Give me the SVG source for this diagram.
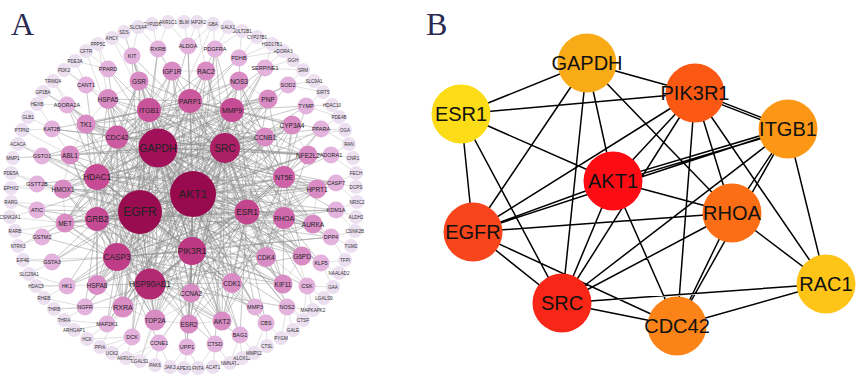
<svg xmlns="http://www.w3.org/2000/svg" width="858" height="376" viewBox="0 0 858 376">
<style>
text{font-family:"Liberation Sans",Arial,sans-serif;text-anchor:middle;dominant-baseline:central;fill:#222}
.panel{font-family:"Liberation Serif","Times New Roman",serif;font-size:32px;fill:#2a2a52;text-anchor:start;dominant-baseline:auto}
.e{fill:none;stroke:#8e8e8e;stroke-width:0.45;stroke-opacity:0.6;stroke-linejoin:round}
.eo{fill:none;stroke:#a8a8a8;stroke-width:0.45;stroke-opacity:0.8}
.eb{fill:none;stroke:#000;stroke-width:1.5}
.o{fill:#ebdff0}.t{fill:#e3b3dd}.m{fill:#d98bc4}
.to{font-size:4.6px;fill:#333}.tt{font-size:5.5px}.tm{font-size:6.5px}.tc{font-size:7px}.t2{font-size:8.3px}
.tb{font-size:20px;fill:#111}
</style>
<rect width="858" height="376" fill="#fff"/>
<text class="panel" x="11" y="35">A</text>
<text class="panel" x="426" y="35">B</text>

<g id="edges-A">
<path class="eo" d="M124 32L132 56M124 32L139 81M112 38L132 56M112 38L149 110M98 44L108 69M98 44L108 99M86 51L108 69M86 51L117 137M75 61L86 85M75 61L108 69M64 70L86 85M64 70L108 99M53 81L67 105M53 81L86 124M43 92L67 105M43 92L117 137M37 104L67 105M37 104L70 155M28 117L52 129M22 130L52 129M22 130L70 155M18 144L42 156M18 144L97 177M13 158L42 156M13 158L70 155M11 173L37 184M11 173L63 189M11 188L37 184M11 188L63 189M11 202L37 210M11 202L65 223M9 217L37 210M9 217L65 223M15 231L42 237M15 231L97 219M18 246L42 237M18 246L65 223M23 260L52 262M23 260L117 257M29 274L52 262M29 274L67 286M36 286L67 286M36 286L97 285M44 298L67 286M44 298L85 307M54 309L85 307M54 309L123 307M64 320L85 307M64 320L107 324M74 330L107 324M87 339L107 324M87 339L132 337M100 347L132 337M100 347L123 307M112 353L132 337M126 358L132 337M126 358L159 343M140 361L159 343M140 361L155 320M155 365L159 343M170 367L187 347M170 367L159 343M184 368L187 347M198 368L187 347M198 368L215 344M213 367L215 344M230 363L215 344M230 363L240 335M242 358L240 335M254 353L240 335M254 353L266 323M267 346L266 323M281 338L266 323M281 338L287 307M293 330L287 307M303 320L287 307M303 320L307 286M313 310L307 286M313 310L287 307M324 298L307 286M333 287L307 286M333 287L321 263M339 273L321 263M345 260L321 263M345 260L331 237M351 246L331 237M355 231L331 237M355 231L336 210M356 217L336 210M357 202L336 210M357 202L336 183M356 187L336 183M356 173L336 183M356 173L331 155M353 158L331 155M349 144L331 155M349 144L321 129M345 130L321 129M339 117L321 129M339 117L306 106M332 105L306 106M323 92L306 106M323 92L288 85M314 81L288 85M303 70L288 85M303 70L265 68M293 60L265 68M283 51L265 68M283 51L239 58M272 44L239 58M272 44L265 68M257 37L239 58M242 31L239 58M242 31L215 49M228 27L215 49M213 24L215 49M213 24L188 46M197 22L188 46M197 22L206 71M184 22L188 46M168 22L158 49M168 22L188 46M152 24L158 49M138 27L158 49M138 27L132 56M45 92L193 194M18 144L140 212M303 320L193 194M213 24L158 148M11 202L140 212M345 130L225 148M140 361L193 194"/>
<path class="e" d="M193 194L140 212 193 194 158 148 193 194 225 148 193 194 247 212 193 194 192 251 193 194 150 284 193 194 117 257 193 194 97 219 193 194 97 177 193 194 149 110 193 194 190 101 193 194 232 110 193 194 117 137 193 194 284 177 193 194 284 218 193 194 139 81 193 194 172 71 193 194 206 71 193 194 239 81 193 194 268 99 193 194 292 125 193 194 308 155 193 194 317 189 193 194 313 224 193 194 302 256 193 194 283 284 193 194 222 321 193 194 189 324 193 194 97 285 193 194 65 223 193 194 63 189 193 194 70 155 193 194 86 124 193 194 108 99 193 194 265 137 193 194 266 257 193 194 232 283 193 194 191 293 193 194 155 320 193 194 123 307 193 194 132 56 193 194 188 46 193 194 215 49 193 194 265 68 193 194 108 69 193 194 67 105 193 194 52 129 193 194 42 156 193 194 42 237 193 194 67 286 193 194 85 307 193 194 107 324 193 194 187 347 193 194 240 335 193 194 321 263 193 194 336 210 193 194 336 183 193 194 321 129 193 194 288 85 193 194 287 307 193 194 255 307 193 194 307 286"/>
<path class="e" d="M140 212L139 81 140 212 172 71 140 212 239 81 140 212 268 99 140 212 292 125 140 212 308 155 140 212 317 189 140 212 313 224 140 212 283 284 140 212 222 321 140 212 97 285 140 212 65 223 140 212 63 189 140 212 70 155 140 212 86 124 140 212 108 99 140 212 265 137 140 212 266 257 140 212 232 283 140 212 155 320 140 212 123 307 140 212 132 56 140 212 158 49 140 212 215 49 140 212 67 105 140 212 42 156 140 212 37 184 140 212 37 210 140 212 52 262 140 212 107 324 140 212 132 337 140 212 215 344 140 212 266 323 140 212 331 237 140 212 336 183 140 212 306 106 140 212 255 307 140 212 307 286 140 212 287 307 140 212 302 256 140 212 158 148 140 212 225 148 140 212 247 212 140 212 192 251 140 212 150 284 140 212 117 257 140 212 97 219 140 212 97 177 140 212 149 110 140 212 190 101 140 212 232 110 140 212 117 137 140 212 284 177 140 212 284 218"/>
<path class="e" d="M158 148L268 99 158 148 292 125 158 148 308 155 158 148 317 189 158 148 313 224 158 148 302 256 158 148 283 284 158 148 222 321 158 148 189 324 158 148 97 285 158 148 65 223 158 148 63 189 158 148 70 155 158 148 86 124 158 148 108 99 158 148 265 137 158 148 266 257 158 148 232 283 158 148 191 293 158 148 155 320 158 148 123 307 158 148 188 46 158 148 239 58 158 148 265 68 158 148 86 85 158 148 42 156 158 148 42 237 158 148 67 286 158 148 132 337 158 148 187 347 158 148 240 335 158 148 266 323 158 148 321 263 158 148 331 237 158 148 336 183 158 148 331 155 158 148 321 129 158 148 306 106 158 148 288 85 158 148 287 307 158 148 255 307 158 148 225 148 158 148 247 212 158 148 192 251 158 148 150 284 158 148 117 257 158 148 97 219 158 148 97 177 158 148 232 110 158 148 284 177 158 148 284 218"/>
<path class="e" d="M225 148L139 81 225 148 172 71 225 148 206 71 225 148 239 81 225 148 268 99 225 148 292 125 225 148 308 155 225 148 317 189 225 148 313 224 225 148 283 284 225 148 222 321 225 148 189 324 225 148 97 285 225 148 65 223 225 148 63 189 225 148 70 155 225 148 86 124 225 148 108 99 225 148 265 137 225 148 266 257 225 148 232 283 225 148 191 293 225 148 155 320 225 148 123 307 225 148 132 56 225 148 215 49 225 148 265 68 225 148 52 129 225 148 37 210 225 148 52 262 225 148 85 307 225 148 107 324 225 148 215 344 225 148 266 323 225 148 331 237 225 148 336 210 225 148 331 155 225 148 307 286 225 148 255 307 225 148 287 307 225 148 247 212 225 148 192 251 225 148 150 284 225 148 117 257 225 148 97 219 225 148 97 177 225 148 149 110 225 148 190 101 225 148 117 137 225 148 284 218"/>
<path class="e" d="M247 212L139 81 247 212 206 71 247 212 268 99 247 212 292 125 247 212 308 155 247 212 313 224 247 212 302 256 247 212 222 321 247 212 189 324 247 212 97 285 247 212 65 223 247 212 63 189 247 212 86 124 247 212 108 99 247 212 266 257 247 212 232 283 247 212 191 293 247 212 155 320 247 212 123 307 247 212 158 49 247 212 239 58 247 212 37 184 247 212 67 286 247 212 159 343 247 212 240 335 247 212 321 263 247 212 336 210 247 212 321 129 247 212 192 251 247 212 150 284 247 212 117 257 247 212 97 219 247 212 97 177 247 212 149 110 247 212 190 101 247 212 232 110 247 212 117 137 247 212 284 177 247 212 284 218"/>
<path class="e" d="M192 251L139 81 192 251 172 71 192 251 239 81 192 251 292 125 192 251 317 189 192 251 313 224 192 251 283 284 192 251 222 321 192 251 189 324 192 251 97 285 192 251 65 223 192 251 70 155 192 251 108 99 192 251 265 137 192 251 266 257 192 251 232 283 192 251 191 293 192 251 155 320 192 251 123 307 192 251 132 56 192 251 215 49 192 251 52 262 192 251 107 324 192 251 187 347 192 251 266 323 192 251 331 237 192 251 336 183 192 251 150 284 192 251 117 257 192 251 97 219 192 251 97 177 192 251 149 110 192 251 190 101 192 251 232 110 192 251 117 137 192 251 284 177 192 251 284 218"/>
<path class="e" d="M150 284L139 81 150 284 206 71 150 284 268 99 150 284 308 155 150 284 313 224 150 284 302 256 150 284 222 321 150 284 189 324 150 284 97 285 150 284 65 223 150 284 63 189 150 284 86 124 150 284 265 137 150 284 266 257 150 284 232 283 150 284 191 293 150 284 155 320 150 284 123 307 150 284 37 210 150 284 85 307 150 284 132 337 150 284 215 344 150 284 240 335 150 284 287 307 150 284 117 257 150 284 97 219 150 284 97 177 150 284 149 110 150 284 190 101 150 284 232 110 150 284 117 137 150 284 284 177 150 284 284 218"/>
<path class="e" d="M117 257L172 71 117 257 239 81 117 257 292 125 117 257 317 189 117 257 283 284 117 257 222 321 117 257 97 285 117 257 65 223 117 257 63 189 117 257 70 155 117 257 108 99 117 257 265 137 117 257 266 257 117 257 232 283 117 257 191 293 117 257 155 320 117 257 123 307 117 257 42 237 117 257 67 286 117 257 107 324 117 257 159 343 117 257 255 307 117 257 331 237 117 257 97 219 117 257 97 177 117 257 149 110 117 257 190 101 117 257 232 110 117 257 117 137 117 257 284 177 117 257 284 218"/>
<path class="e" d="M97 219L139 81 97 219 206 71 97 219 268 99 97 219 308 155 97 219 313 224 97 219 283 284 97 219 222 321 97 219 97 285 97 219 65 223 97 219 70 155 97 219 86 124 97 219 265 137 97 219 232 283 97 219 191 293 97 219 155 320 97 219 123 307 97 219 37 210 97 219 52 262 97 219 85 307 97 219 336 210 97 219 97 177 97 219 149 110 97 219 190 101 97 219 232 110 97 219 117 137 97 219 284 177 97 219 284 218"/>
<path class="e" d="M97 177L139 81 97 177 172 71 97 177 239 81 97 177 292 125 97 177 317 189 97 177 302 256 97 177 189 324 97 177 97 285 97 177 65 223 97 177 63 189 97 177 108 99 97 177 265 137 97 177 266 257 97 177 232 283 97 177 155 320 97 177 123 307 97 177 42 156 97 177 37 184 97 177 67 105 97 177 86 85 97 177 336 183 97 177 149 110 97 177 190 101 97 177 232 110 97 177 117 137 97 177 284 177 97 177 284 218"/>
<path class="e" d="M149 110L172 71 149 110 239 81 149 110 268 99 149 110 308 155 149 110 313 224 149 110 283 284 149 110 222 321 149 110 97 285 149 110 65 223 149 110 70 155 149 110 86 124 149 110 108 99 149 110 265 137 149 110 232 283 149 110 191 293 149 110 123 307 149 110 132 56 149 110 158 49 149 110 108 69 149 110 52 129 149 110 190 101 149 110 232 110 149 110 117 137 149 110 284 177 149 110 284 218"/>
<path class="e" d="M190 101L139 81 190 101 206 71 190 101 239 81 190 101 292 125 190 101 317 189 190 101 302 256 190 101 222 321 190 101 65 223 190 101 63 189 190 101 86 124 190 101 108 99 190 101 265 137 190 101 266 257 190 101 232 283 190 101 155 320 190 101 188 46 190 101 239 58 190 101 321 129 190 101 232 110 190 101 117 137 190 101 284 177 190 101 284 218"/>
<path class="e" d="M232 110L172 71 232 110 268 99 232 110 292 125 232 110 308 155 232 110 313 224 232 110 283 284 232 110 189 324 232 110 97 285 232 110 70 155 232 110 86 124 232 110 265 137 232 110 266 257 232 110 191 293 232 110 123 307 232 110 265 68 232 110 215 49 232 110 306 106 232 110 288 85 232 110 117 137 232 110 284 177 232 110 284 218"/>
<path class="e" d="M117 137L139 81 117 137 206 71 117 137 268 99 117 137 308 155 117 137 302 256 117 137 222 321 117 137 65 223 117 137 63 189 117 137 86 124 117 137 108 99 117 137 265 137 117 137 232 283 117 137 155 320 117 137 123 307 117 137 108 69 117 137 67 105 117 137 52 129 117 137 42 156 117 137 284 177 117 137 284 218"/>
<path class="e" d="M284 177L239 81 284 177 268 99 284 177 292 125 284 177 317 189 284 177 313 224 284 177 302 256 284 177 222 321 284 177 265 137 284 177 266 257 284 177 232 283 284 177 331 155 284 177 336 183 284 177 321 129 284 177 306 106 284 177 284 218"/>
<path class="e" d="M284 218L239 81 284 218 292 125 284 218 308 155 284 218 317 189 284 218 302 256 284 218 283 284 284 218 222 321 284 218 189 324 284 218 265 137 284 218 266 257 284 218 232 283 284 218 336 210 284 218 331 237 284 218 321 263 284 218 307 286"/>
<path class="e" d="M265 137L292 125M265 137L239 81M265 137L232 283M232 283L266 257M232 283L191 293M232 283L155 320M232 283L222 321M232 283L255 307M232 283L283 284M123 307L97 285M123 307L155 320M123 307L191 293M65 223L63 189M70 155L86 124M108 99L139 81M172 71L206 71M239 81L268 99M292 125L308 155M317 189L313 224M302 256L283 284M189 324L222 321M155 320L189 324M70 155L63 189M108 99L86 124"/>
</g>

<g id="nodes-A">
<g id="nA-SDS"><circle class="o" cx="124" cy="32" r="7"/><text class="to" x="124" y="32">SDS</text></g>
<g id="nA-AHCY"><circle class="o" cx="112" cy="38" r="7"/><text class="to" x="112" y="38">AHCY</text></g>
<g id="nA-PPP5C"><circle class="o" cx="98" cy="44" r="7"/><text class="to" x="98" y="44">PPP5C</text></g>
<g id="nA-CFTR"><circle class="o" cx="86" cy="51" r="7"/><text class="to" x="86" y="51">CFTR</text></g>
<g id="nA-PDE3A"><circle class="o" cx="75" cy="61" r="7"/><text class="to" x="75" y="61">PDE3A</text></g>
<g id="nA-PDK2"><circle class="o" cx="64" cy="70" r="7"/><text class="to" x="64" y="70">PDK2</text></g>
<g id="nA-TRIM24"><circle class="o" cx="53" cy="81" r="7"/><text class="to" x="53" y="81">TRIM24</text></g>
<g id="nA-GP1BA"><circle class="o" cx="43" cy="92" r="7"/><text class="to" x="43" y="92">GP1BA</text></g>
<g id="nA-HEXB"><circle class="o" cx="37" cy="104" r="7"/><text class="to" x="37" y="104">HEXB</text></g>
<g id="nA-GLB1"><circle class="o" cx="28" cy="117" r="7"/><text class="to" x="28" y="117">GLB1</text></g>
<g id="nA-PTPN2"><circle class="o" cx="22" cy="130" r="7"/><text class="to" x="22" y="130">PTPN2</text></g>
<g id="nA-ACACA"><circle class="o" cx="18" cy="144" r="7"/><text class="to" x="18" y="144">ACACA</text></g>
<g id="nA-MMP1"><circle class="o" cx="13" cy="158" r="7"/><text class="to" x="13" y="158">MMP1</text></g>
<g id="nA-PDE5A"><circle class="o" cx="11" cy="173" r="7"/><text class="to" x="11" y="173">PDE5A</text></g>
<g id="nA-EPHX2"><circle class="o" cx="11" cy="188" r="7"/><text class="to" x="11" y="188">EPHX2</text></g>
<g id="nA-RARG"><circle class="o" cx="11" cy="202" r="7"/><text class="to" x="11" y="202">RARG</text></g>
<g id="nA-CSNK2A1"><circle class="o" cx="10" cy="217" r="7"/><text class="to" x="10" y="217">CSNK2A1</text></g>
<g id="nA-RARB"><circle class="o" cx="15" cy="231" r="7"/><text class="to" x="15" y="231">RARB</text></g>
<g id="nA-NTRK3"><circle class="o" cx="18" cy="246" r="7"/><text class="to" x="18" y="246">NTRK3</text></g>
<g id="nA-EIF4E"><circle class="o" cx="23" cy="260" r="7"/><text class="to" x="23" y="260">EIF4E</text></g>
<g id="nA-SLC29A1"><circle class="o" cx="29" cy="274" r="7"/><text class="to" x="29" y="274">SLC29A1</text></g>
<g id="nA-HDAC5"><circle class="o" cx="36" cy="286" r="7"/><text class="to" x="36" y="286">HDAC5</text></g>
<g id="nA-RHEB"><circle class="o" cx="44" cy="298" r="7"/><text class="to" x="44" y="298">RHEB</text></g>
<g id="nA-THRB"><circle class="o" cx="54" cy="309" r="7"/><text class="to" x="54" y="309">THRB</text></g>
<g id="nA-THRA"><circle class="o" cx="64" cy="320" r="7"/><text class="to" x="64" y="320">THRA</text></g>
<g id="nA-ARHGAP1"><circle class="o" cx="74" cy="330" r="7"/><text class="to" x="74" y="330">ARHGAP1</text></g>
<g id="nA-HCK"><circle class="o" cx="87" cy="339" r="7"/><text class="to" x="87" y="339">HCK</text></g>
<g id="nA-PPIA"><circle class="o" cx="100" cy="347" r="7"/><text class="to" x="100" y="347">PPIA</text></g>
<g id="nA-UCK2"><circle class="o" cx="112" cy="353" r="7"/><text class="to" x="112" y="353">UCK2</text></g>
<g id="nA-AKR1C1-b"><circle class="o" cx="126" cy="358" r="7"/><text class="to" x="126" y="358">AKR1C1</text></g>
<g id="nA-LGALS1"><circle class="o" cx="140" cy="361" r="7"/><text class="to" x="140" y="361">LGALS1</text></g>
<g id="nA-PAK6"><circle class="o" cx="155" cy="365" r="7"/><text class="to" x="155" y="365">PAK6</text></g>
<g id="nA-JAK3"><circle class="o" cx="170" cy="367" r="7"/><text class="to" x="170" y="367">JAK3</text></g>
<g id="nA-APEX1"><circle class="o" cx="184" cy="368" r="7"/><text class="to" x="184" y="368">APEX1</text></g>
<g id="nA-FNTA"><circle class="o" cx="198" cy="368" r="7"/><text class="to" x="198" y="368">FNTA</text></g>
<g id="nA-ACAT1"><circle class="o" cx="213" cy="367" r="7"/><text class="to" x="213" y="367">ACAT1</text></g>
<g id="nA-NMNAT3"><circle class="o" cx="230" cy="363" r="7"/><text class="to" x="230" y="363">NMNAT3</text></g>
<g id="nA-ALOX12"><circle class="o" cx="242" cy="358" r="7"/><text class="to" x="242" y="358">ALOX12</text></g>
<g id="nA-MMP12"><circle class="o" cx="254" cy="353" r="7"/><text class="to" x="254" y="353">MMP12</text></g>
<g id="nA-CTSL"><circle class="o" cx="267" cy="346" r="7"/><text class="to" x="267" y="346">CTSL</text></g>
<g id="nA-PYGM"><circle class="o" cx="281" cy="338" r="7"/><text class="to" x="281" y="338">PYGM</text></g>
<g id="nA-GALE"><circle class="o" cx="293" cy="330" r="7"/><text class="to" x="293" y="330">GALE</text></g>
<g id="nA-CTSF"><circle class="o" cx="303" cy="320" r="7"/><text class="to" x="303" y="320">CTSF</text></g>
<g id="nA-MAPKAPK2"><circle class="o" cx="313" cy="310" r="7"/><text class="to" x="313" y="310">MAPKAPK2</text></g>
<g id="nA-LGALS9"><circle class="o" cx="324" cy="298" r="7"/><text class="to" x="324" y="298">LGALS9</text></g>
<g id="nA-GAA"><circle class="o" cx="333" cy="287" r="7"/><text class="to" x="333" y="287">GAA</text></g>
<g id="nA-NAALAD2"><circle class="o" cx="339" cy="273" r="7"/><text class="to" x="339" y="273">NAALAD2</text></g>
<g id="nA-TFPI"><circle class="o" cx="345" cy="260" r="7"/><text class="to" x="345" y="260">TFPI</text></g>
<g id="nA-TGM2"><circle class="o" cx="351" cy="246" r="7"/><text class="to" x="351" y="246">TGM2</text></g>
<g id="nA-CSNK2B"><circle class="o" cx="355" cy="231" r="7"/><text class="to" x="355" y="231">CSNK2B</text></g>
<g id="nA-ALDH2"><circle class="o" cx="356" cy="217" r="7"/><text class="to" x="356" y="217">ALDH2</text></g>
<g id="nA-NR3C2"><circle class="o" cx="357" cy="202" r="7"/><text class="to" x="357" y="202">NR3C2</text></g>
<g id="nA-DCPS"><circle class="o" cx="356" cy="187" r="7"/><text class="to" x="356" y="187">DCPS</text></g>
<g id="nA-FECH"><circle class="o" cx="356" cy="173" r="7"/><text class="to" x="356" y="173">FECH</text></g>
<g id="nA-CNR1"><circle class="o" cx="353" cy="158" r="7"/><text class="to" x="353" y="158">CNR1</text></g>
<g id="nA-RAN"><circle class="o" cx="349" cy="144" r="7"/><text class="to" x="349" y="144">RAN</text></g>
<g id="nA-OGA"><circle class="o" cx="345" cy="130" r="7"/><text class="to" x="345" y="130">OGA</text></g>
<g id="nA-PDE4B"><circle class="o" cx="339" cy="117" r="7"/><text class="to" x="339" y="117">PDE4B</text></g>
<g id="nA-HDAC10"><circle class="o" cx="332" cy="105" r="7"/><text class="to" x="332" y="105">HDAC10</text></g>
<g id="nA-SIRT5"><circle class="o" cx="323" cy="92" r="7"/><text class="to" x="323" y="92">SIRT5</text></g>
<g id="nA-SLC9A1"><circle class="o" cx="314" cy="81" r="7"/><text class="to" x="314" y="81">SLC9A1</text></g>
<g id="nA-SRM"><circle class="o" cx="303" cy="70" r="7"/><text class="to" x="303" y="70">SRM</text></g>
<g id="nA-GGH"><circle class="o" cx="293" cy="60" r="7"/><text class="to" x="293" y="60">GGH</text></g>
<g id="nA-ADORA3"><circle class="o" cx="283" cy="51" r="7"/><text class="to" x="283" y="51">ADORA3</text></g>
<g id="nA-HSD17B1"><circle class="o" cx="272" cy="44" r="7"/><text class="to" x="272" y="44">HSD17B1</text></g>
<g id="nA-CYP27B1"><circle class="o" cx="257" cy="37" r="7"/><text class="to" x="257" y="37">CYP27B1</text></g>
<g id="nA-SULT2B1"><circle class="o" cx="242" cy="31" r="7"/><text class="to" x="242" y="31">SULT2B1</text></g>
<g id="nA-GALK1"><circle class="o" cx="228" cy="27" r="7"/><text class="to" x="228" y="27">GALK1</text></g>
<g id="nA-GBA"><circle class="o" cx="213" cy="24" r="7"/><text class="to" x="213" y="24">GBA</text></g>
<g id="nA-MAP2K2"><circle class="o" cx="197" cy="22" r="7"/><text class="to" x="197" y="22">MAP2K2</text></g>
<g id="nA-BLM"><circle class="o" cx="184" cy="22" r="7"/><text class="to" x="184" y="22">BLM</text></g>
<g id="nA-AKR1C1-t"><circle class="o" cx="168" cy="22" r="7"/><text class="to" x="168" y="22">AKR1C1</text></g>
<g id="nA-CYP2D6"><circle class="o" cx="152" cy="24" r="7"/><text class="to" x="152" y="24">CYP2D6</text></g>
<g id="nA-SLC6A4"><circle class="o" cx="138" cy="27" r="7"/><text class="to" x="138" y="27">SLC6A4</text></g>

<g id="nA-KIT"><circle class="t" cx="132" cy="56" r="8.5"/><text class="tt" x="132" y="56">KIT</text></g>
<g id="nA-RXRB"><circle class="t" cx="158" cy="49" r="8.5"/><text class="tt" x="158" y="49">RXRB</text></g>
<g id="nA-ALDOA"><circle class="t" cx="188" cy="46" r="8.5"/><text class="tt" x="188" y="46">ALDOA</text></g>
<g id="nA-PDGFRA"><circle class="t" cx="215" cy="49" r="8.5"/><text class="tt" x="215" y="49">PDGFRA</text></g>
<g id="nA-PDHB"><circle class="t" cx="239" cy="58" r="8.5"/><text class="tt" x="239" y="58">PDHB</text></g>
<g id="nA-SERPINE1"><circle class="t" cx="265" cy="68" r="8.5"/><text class="tt" x="265" y="68">SERPINE1</text></g>
<g id="nA-PPARD"><circle class="t" cx="108" cy="69" r="8.5"/><text class="tt" x="108" y="69">PPARD</text></g>
<g id="nA-CANT1"><circle class="t" cx="86" cy="85" r="8.5"/><text class="tt" x="86" y="85">CANT1</text></g>
<g id="nA-ADORA2A"><circle class="t" cx="67" cy="105" r="8.5"/><text class="tt" x="67" y="105">ADORA2A</text></g>
<g id="nA-KAT2B"><circle class="t" cx="52" cy="129" r="8.5"/><text class="tt" x="52" y="129">KAT2B</text></g>
<g id="nA-GSTO1"><circle class="t" cx="42" cy="156" r="8.5"/><text class="tt" x="42" y="156">GSTO1</text></g>
<g id="nA-GSTT2B"><circle class="t" cx="37" cy="184" r="8.5"/><text class="tt" x="37" y="184">GSTT2B</text></g>
<g id="nA-ATIC"><circle class="t" cx="37" cy="210" r="8.5"/><text class="tt" x="37" y="210">ATIC</text></g>
<g id="nA-GSTM2"><circle class="t" cx="42" cy="237" r="8.5"/><text class="tt" x="42" y="237">GSTM2</text></g>
<g id="nA-GSTA3"><circle class="t" cx="52" cy="262" r="8.5"/><text class="tt" x="52" y="262">GSTA3</text></g>
<g id="nA-HK1"><circle class="t" cx="67" cy="286" r="8.5"/><text class="tt" x="67" y="286">HK1</text></g>
<g id="nA-NGFR"><circle class="t" cx="85" cy="307" r="8.5"/><text class="tt" x="85" y="307">NGFR</text></g>
<g id="nA-MAP2K1"><circle class="t" cx="107" cy="324" r="8.5"/><text class="tt" x="107" y="324">MAP2K1</text></g>
<g id="nA-DCK"><circle class="t" cx="132" cy="337" r="8.5"/><text class="tt" x="132" y="337">DCK</text></g>
<g id="nA-CCNE1"><circle class="t" cx="159" cy="343" r="8.5"/><text class="tt" x="159" y="343">CCNE1</text></g>
<g id="nA-UPP1"><circle class="t" cx="187" cy="347" r="8.5"/><text class="tt" x="187" y="347">UPP1</text></g>
<g id="nA-CTSD"><circle class="t" cx="215" cy="344" r="8.5"/><text class="tt" x="215" y="344">CTSD</text></g>
<g id="nA-BAG1"><circle class="t" cx="240" cy="335" r="8.5"/><text class="tt" x="240" y="335">BAG1</text></g>
<g id="nA-CBS"><circle class="t" cx="266" cy="323" r="8.5"/><text class="tt" x="266" y="323">CBS</text></g>
<g id="nA-MMP3"><circle class="t" cx="255" cy="307" r="8.5"/><text class="tt" x="255" y="307">MMP3</text></g>
<g id="nA-NOS2"><circle class="t" cx="287" cy="307" r="8.5"/><text class="tt" x="287" y="307">NOS2</text></g>
<g id="nA-CSK"><circle class="t" cx="307" cy="286" r="8.5"/><text class="tt" x="307" y="286">CSK</text></g>
<g id="nA-KLF5"><circle class="t" cx="321" cy="263" r="8.5"/><text class="tt" x="321" y="263">KLF5</text></g>
<g id="nA-DPP4"><circle class="t" cx="331" cy="237" r="8.5"/><text class="tt" x="331" y="237">DPP4</text></g>
<g id="nA-KDM1A"><circle class="t" cx="336" cy="210" r="8.5"/><text class="tt" x="336" y="210">KDM1A</text></g>
<g id="nA-CASP7"><circle class="t" cx="336" cy="183" r="8.5"/><text class="tt" x="336" y="183">CASP7</text></g>
<g id="nA-ADORA1"><circle class="t" cx="331" cy="155" r="8.5"/><text class="tt" x="331" y="155">ADORA1</text></g>
<g id="nA-PPARA"><circle class="t" cx="321" cy="129" r="8.5"/><text class="tt" x="321" y="129">PPARA</text></g>
<g id="nA-TYMP"><circle class="t" cx="306" cy="106" r="8.5"/><text class="tt" x="306" y="106">TYMP</text></g>
<g id="nA-SOD2"><circle class="t" cx="288" cy="85" r="8.5"/><text class="tt" x="288" y="85">SOD2</text></g>

<g id="nA-GSR"><circle class="m" cx="139" cy="81" r="9.5"/><text class="tm" x="139" y="81">GSR</text></g>
<g id="nA-IGF1R"><circle class="m" cx="172" cy="71" r="9.5"/><text class="tm" x="172" y="71">IGF1R</text></g>
<g id="nA-RAC2"><circle class="m" cx="206" cy="71" r="9.5"/><text class="tm" x="206" y="71">RAC2</text></g>
<g id="nA-NOS3"><circle class="m" cx="239" cy="81" r="9.5"/><text class="tm" x="239" y="81">NOS3</text></g>
<g id="nA-PNP"><circle class="m" cx="268" cy="99" r="9.5"/><text class="tm" x="268" y="99">PNP</text></g>
<g id="nA-CYP3A4"><circle class="m" cx="292" cy="125" r="9.5"/><text class="tm" x="292" y="125">CYP3A4</text></g>
<g id="nA-NFE2L2"><circle class="m" cx="308" cy="155" r="9.5"/><text class="tm" x="308" y="155">NFE2L2</text></g>
<g id="nA-HPRT1"><circle class="m" cx="317" cy="189" r="9.5"/><text class="tm" x="317" y="189">HPRT1</text></g>
<g id="nA-AURKA"><circle class="m" cx="313" cy="224" r="9.5"/><text class="tm" x="313" y="224">AURKA</text></g>
<g id="nA-G6PD"><circle class="m" cx="302" cy="256" r="9.5"/><text class="tm" x="302" y="256">G6PD</text></g>
<g id="nA-KIF11"><circle class="m" cx="283" cy="284" r="9.5"/><text class="tm" x="283" y="284">KIF11</text></g>
<g id="nA-AKT2"><circle class="m" cx="222" cy="321" r="9.5"/><text class="tm" x="222" y="321">AKT2</text></g>
<g id="nA-ESR2"><circle class="m" cx="189" cy="324" r="9.5"/><text class="tm" x="189" y="324">ESR2</text></g>
<g id="nA-HSPA8"><circle class="m" cx="97" cy="285" r="10"/><text class="tm" x="97" y="285">HSPA8</text></g>
<g id="nA-MET"><circle class="m" cx="65" cy="223" r="9.5"/><text class="tm" x="65" y="223">MET</text></g>
<g id="nA-HMOX1"><circle class="m" cx="63" cy="189" r="9.5"/><text class="tm" x="63" y="189">HMOX1</text></g>
<g id="nA-ABL1"><circle class="m" cx="70" cy="155" r="9.5"/><text class="tm" x="70" y="155">ABL1</text></g>
<g id="nA-TK1"><circle class="m" cx="86" cy="124" r="9.5"/><text class="tm" x="86" y="124">TK1</text></g>
<g id="nA-HSPA5"><circle class="m" cx="108" cy="99" r="10"/><text class="tm" x="108" y="99">HSPA5</text></g>
<g id="nA-CCNB1"><circle class="m" cx="265" cy="137" r="9.5"/><text class="tm" x="265" y="137">CCNB1</text></g>
<g id="nA-CDK4"><circle class="m" cx="266" cy="257" r="10" fill="#d477b8"/><text class="tm" x="266" y="257">CDK4</text></g>
<g id="nA-CDK1"><circle class="m" cx="232" cy="283" r="10" fill="#d67bba"/><text class="tm" x="232" y="283">CDK1</text></g>
<g id="nA-CCNA2"><circle class="m" cx="191" cy="293" r="9.5"/><text class="tm" x="191" y="293">CCNA2</text></g>
<g id="nA-TOP2A"><circle class="m" cx="155" cy="320" r="10.5" fill="#d477b8"/><text class="tm" x="155" y="320">TOP2A</text></g>
<g id="nA-RXRA"><circle class="m" cx="123" cy="307" r="10.5" fill="#d06aae"/><text class="tc" x="123" y="307">RXRA</text></g>

<g id="nA-ITGB1"><circle cx="149" cy="110" r="12" fill="#c9539a"/><text class="tc" x="149" y="110">ITGB1</text></g>
<g id="nA-PARP1"><circle cx="190" cy="101" r="12" fill="#cb589d"/><text class="tc" x="190" y="101">PARP1</text></g>
<g id="nA-MMP9"><circle cx="232" cy="110" r="12" fill="#c64c95"/><text class="tc" x="232" y="110">MMP9</text></g>
<g id="nA-CDC42"><circle cx="117" cy="137" r="11.5" fill="#cc5ca2"/><text class="tc" x="117" y="137">CDC42</text></g>
<g id="nA-NT5E"><circle cx="284" cy="177" r="11" fill="#ce62a8"/><text class="tc" x="284" y="177">NT5E</text></g>
<g id="nA-RHOA"><circle cx="284" cy="218" r="11" fill="#d068ac"/><text class="tc" x="284" y="218">RHOA</text></g>
<g id="nA-HDAC1"><circle cx="97" cy="177" r="13" fill="#c64b94"/><text class="t2" x="97" y="177">HDAC1</text></g>
<g id="nA-GRB2"><circle cx="97" cy="219" r="12" fill="#c54a93"/><text class="t2" x="97" y="219">GRB2</text></g>
<g id="nA-CASP3"><circle cx="117" cy="257" r="14" fill="#bf3d87"/><text class="t2" x="117" y="257">CASP3</text></g>
<g id="nA-HSP90AB1"><circle cx="150" cy="284" r="15.5" fill="#b22a72"/><text class="t2" x="150" y="284">HSP90AB1</text></g>
<g id="nA-PIK3R1"><circle cx="192" cy="251" r="14" fill="#bd3883"/><text class="t2" x="192" y="251">PIK3R1</text></g>
<g id="nA-ESR1"><circle cx="247" cy="212" r="12.5" fill="#c2468d"/><text class="t2" x="247" y="212">ESR1</text></g>
<g id="nA-SRC"><circle cx="225" cy="148" r="15" fill="#ab1f66"/><text x="225" y="148" font-size="10px">SRC</text></g>
<g id="nA-GAPDH"><circle cx="158" cy="148" r="19.5" fill="#a0115a"/><text x="158" y="148" font-size="10.5px">GAPDH</text></g>
<g id="nA-EGFR"><circle cx="140" cy="212" r="22" fill="#9a0c50"/><text x="140" y="212" font-size="12px">EGFR</text></g>
<g id="nA-AKT1"><circle cx="193" cy="194" r="23" fill="#980a4e"/><text x="193" y="194" font-size="11.5px">AKT1</text></g>
</g>

<g id="edges-B">
<path class="eb" d="M587 63L461 114M587 63L695 93M587 63L473 232M587 63L562 303M587 63L613 181M587 63L732 213M461 114L695 93M461 114L613 181M461 114L473 232M461 114L562 303M695.4 91.9L788.4 127.9M694.6 94.1L787.6 130.1M695 93L473 232M695 93L613 181M695 93L562 303M695 93L677 326M695 93L732 213M695 93L826 284M787.6 127.6L612.6 179.6M788.4 130.4L613.4 182.4M788 129L562 303M788 129L677 326M788 129L732 213M788 129L826 284M788 129L473 232M613 181L473 232M613 181L562 303M613 181L677 326M613 181L732 213M473 232L732 213M473 232L562 303M473 232L677 326M562 303L732 213M562 303L677 326M562 303L826 284M732 213L677 326M732 213L826 284M677 326L826 284"/>
</g>
<g id="nodes-B">
<g id="nB-GAPDH"><circle cx="587" cy="63" r="29.5" fill="#f9aa17"/><text class="tb" x="587" y="63">GAPDH</text></g>
<g id="nB-ESR1"><circle cx="461" cy="114" r="29.5" fill="#fcdc16"/><text class="tb" x="461" y="114">ESR1</text></g>
<g id="nB-PIK3R1"><circle cx="695" cy="93" r="29.5" fill="#fb5813"/><text class="tb" x="695" y="93">PIK3R1</text></g>
<g id="nB-ITGB1"><circle cx="788" cy="129" r="29.5" fill="#fc9716"/><text class="tb" x="788" y="129">ITGB1</text></g>
<g id="nB-AKT1"><circle cx="613" cy="181" r="29.5" fill="#fe0c14"/><text class="tb" x="613" y="181">AKT1</text></g>
<g id="nB-RHOA"><circle cx="732" cy="213" r="29.5" fill="#fb6e15"/><text class="tb" x="732" y="213">RHOA</text></g>
<g id="nB-EGFR"><circle cx="473" cy="232" r="29.5" fill="#f8451b"/><text class="tb" x="473" y="232">EGFR</text></g>
<g id="nB-SRC"><circle cx="562" cy="303" r="29.5" fill="#f72616"/><text class="tb" x="562" y="303">SRC</text></g>
<g id="nB-CDC42"><circle cx="677" cy="326" r="29.5" fill="#fb8317"/><text class="tb" x="677" y="326">CDC42</text></g>
<g id="nB-RAC1"><circle cx="826" cy="284" r="29.5" fill="#fec418"/><text class="tb" x="826" y="284">RAC1</text></g>
</g>
</svg>
